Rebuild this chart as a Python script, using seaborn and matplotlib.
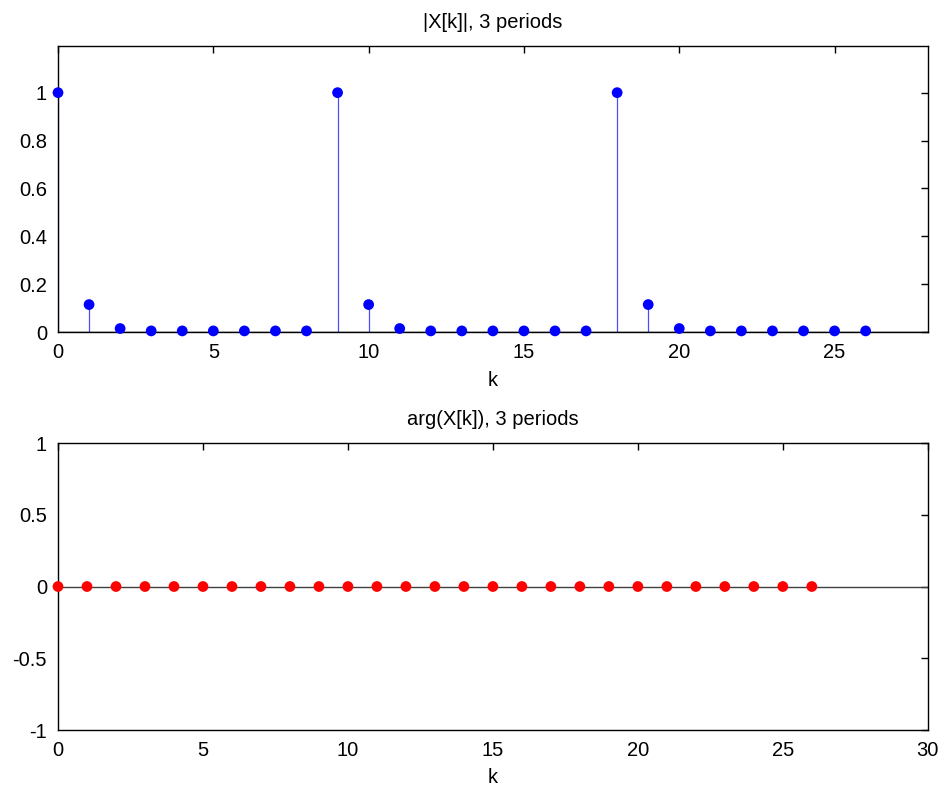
import matplotlib
matplotlib.use("Agg")
import matplotlib.pyplot as plt
from matplotlib.ticker import FuncFormatter
import seaborn as sns
import pandas as pd

# DFT sample index, 3 periods
k = [0, 1, 2, 3, 4, 5, 6, 7, 8,
     9, 10, 11, 12, 13, 14, 15, 16, 17,
     18, 19, 20, 21, 22, 23, 24, 25, 26]
# magnitude |X[k]|
mag = [1.0, 0.115, 0.015, 0.005, 0.005, 0.005, 0.005, 0.005, 0.005,
       1.0, 0.115, 0.015, 0.005, 0.005, 0.005, 0.005, 0.005, 0.005,
       1.0, 0.115, 0.015, 0.005, 0.005, 0.005, 0.005, 0.005, 0.005]
# phase arg(X[k])
phase = [0, 0, 0, 0, 0, 0, 0, 0, 0,
         0, 0, 0, 0, 0, 0, 0, 0, 0,
         0, 0, 0, 0, 0, 0, 0, 0, 0]

df = pd.DataFrame({'k': k, 'mag': mag, 'phase': phase})

sns.set_style("white")
plt.rcParams['font.family'] = ['Liberation Sans', 'DejaVu Sans']
plt.rcParams['text.color'] = 'black'
plt.rcParams['axes.labelcolor'] = 'black'

fig = plt.figure(figsize=(9.4, 7.87), dpi=100)
ax1 = fig.add_axes([0.0617, 0.578, 0.9253, 0.3636])
ax2 = fig.add_axes([0.0617, 0.0724, 0.9253, 0.3647])

fmt = FuncFormatter(lambda v, p: ('%g' % round(v, 3)))
fs = 14.5

# top: magnitude stems
ax1.vlines(df['k'], 0, df['mag'], color='#0000ff', linewidth=0.9, alpha=0.7)
ax1.axhline(0, color='black', linewidth=1)
sns.scatterplot(data=df, x='k', y='mag', ax=ax1, color='#0000ff',
                s=60, edgecolor='none', zorder=3, clip_on=False)
ax1.set_xlim(0, 28)
ax1.set_ylim(0, 1.195)
ax1.set_xticks([0, 5, 10, 15, 20, 25])
ax1.set_yticks([0, 0.2, 0.4, 0.6, 0.8, 1])
ax1.set_title('|X[k]|, 3 periods', fontsize=fs, pad=13)

# bottom: phase stems
ax2.vlines(df['k'], 0, df['phase'], color='#ff0000', linewidth=0.9)
ax2.axhline(0, xmin=0, xmax=1, color='#404040', linewidth=1)
sns.scatterplot(data=df, x='k', y='phase', ax=ax2, color='#ff0000',
                s=60, edgecolor='none', zorder=3, clip_on=False)
ax2.set_xlim(0, 30)
ax2.set_ylim(-1, 1)
ax2.set_xticks([0, 5, 10, 15, 20, 25, 30])
ax2.set_yticks([-1, -0.5, 0, 0.5, 1])
ax2.set_title('arg(X[k]), 3 periods', fontsize=fs, pad=13)

for ax in (ax1, ax2):
    ax.set_xlabel('k', fontsize=fs, labelpad=6)
    ax.set_ylabel('')
    ax.yaxis.set_major_formatter(fmt)
    ax.tick_params(direction='in', length=5, width=1, top=True, right=True,
                   labelsize=fs, colors='black', pad=8)
    for s in ax.spines.values():
        s.set_color('black')
        s.set_linewidth(1)

fig.savefig('out.png', dpi=100)
